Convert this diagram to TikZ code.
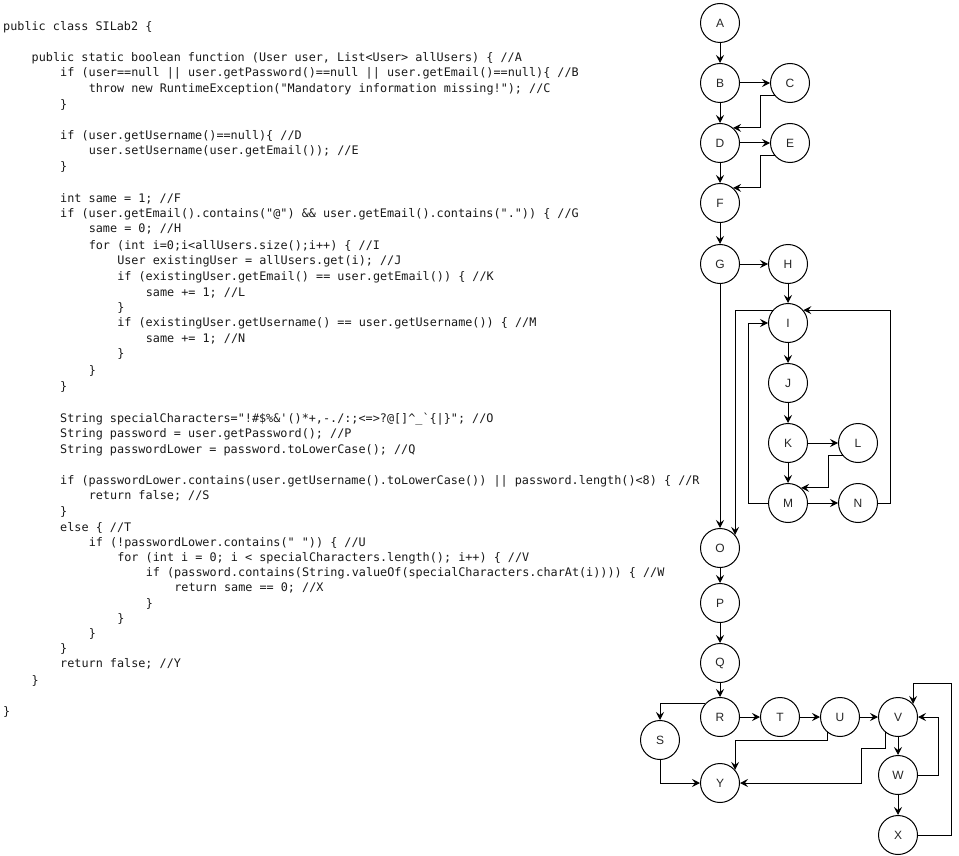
\documentclass[tikz,border=0pt]{standalone}
\usepackage{fontspec}
\setmonofont{DejaVu Sans Mono}
\newfontfamily\labelfont{Liberation Sans}
\usetikzlibrary{arrows.meta}

\begin{document}
\begin{tikzpicture}[x=1pt,y=-1pt,
  code/.style={anchor=base west, inner sep=0pt, text=black!90,
               font=\ttfamily\fontsize{11.8}{14}\selectfont},
  vtx/.style={circle, draw, line width=1pt, minimum size=39pt, inner sep=0pt,
              text=black!85, font=\labelfont\fontsize{12}{14}\selectfont},
  arr/.style={-{Stealth[length=8pt,width=8pt,inset=3pt]}, line width=1pt},
]
\useasboundingbox (0,0) rectangle (959,856);

% ---------------- source listing ----------------
\def\ind#1{\fpeval{3+28.52*#1}}
\node[code] (l0)  at (\ind{0},31)  {public class SILab2 \{};
\node[code] (l2)  at (\ind{1},62)  {public static boolean function (User user, List<User> allUsers) \{ //A};
\node[code] (l3)  at (\ind{2},77)  {if (user==null || user.getPassword()==null || user.getEmail()==null)\{ //B};
\node[code] (l4)  at (\ind{3},93)  {throw new RuntimeException("Mandatory information missing!"); //C};
\node[code] (l5)  at (\ind{2},109) {\}};
\node[code] (l7)  at (\ind{2},140) {if (user.getUsername()==null)\{ //D};
\node[code] (l8)  at (\ind{3},155) {user.setUsername(user.getEmail()); //E};
\node[code] (l9)  at (\ind{2},171) {\}};
\node[code] (l11) at (\ind{2},202) {int same = 1; //F};
\node[code] (l12) at (\ind{2},217) {if (user.getEmail().contains("@") \&\& user.getEmail().contains(".")) \{ //G};
\node[code] (l13) at (\ind{3},233) {same = 0; //H};
\node[code] (l14) at (\ind{3},249) {for (int i=0;i<allUsers.size();i++) \{ //I};
\node[code] (l15) at (\ind{4},264) {User existingUser = allUsers.get(i); //J};
\node[code] (l16) at (\ind{4},280) {if (existingUser.getEmail() == user.getEmail()) \{ //K};
\node[code] (l17) at (\ind{5},296) {same += 1; //L};
\node[code] (l18) at (\ind{4},311) {\}};
\node[code] (l19) at (\ind{4},326) {if (existingUser.getUsername() == user.getUsername()) \{ //M};
\node[code] (l20) at (\ind{5},342) {same += 1; //N};
\node[code] (l21) at (\ind{4},357) {\}};
\node[code] (l22) at (\ind{3},374) {\}};
\node[code] (l23) at (\ind{2},390) {\}};
\node[code] (l25) at (\ind{2},422) {String specialCharacters="!\#\$\%\&'()*+,-./:;<=>?@[]\textasciicircum\_`\{|\}"; //O};
\node[code] (l26) at (\ind{2},437) {String password = user.getPassword(); //P};
\node[code] (l27) at (\ind{2},453) {String passwordLower = password.toLowerCase(); //Q};
\node[code] (l29) at (\ind{2},484) {if (passwordLower.contains(user.getUsername().toLowerCase()) || password.length()<8) \{ //R};
\node[code] (l30) at (\ind{3},499) {return false; //S};
\node[code] (l31) at (\ind{2},515) {\}};
\node[code] (l32) at (\ind{2},531) {else \{ //T};
\node[code] (l33) at (\ind{3},546) {if (!passwordLower.contains(" ")) \{ //U};
\node[code] (l34) at (\ind{4},561) {for (int i = 0; i < specialCharacters.length(); i++) \{ //V};
\node[code] (l35) at (\ind{5},576) {if (password.contains(String.valueOf(specialCharacters.charAt(i)))) \{ //W};
\node[code] (l36) at (\ind{6},591) {return same == 0; //X};
\node[code] (l37) at (\ind{5},607) {\}};
\node[code] (l38) at (\ind{4},622) {\}};
\node[code] (l39) at (\ind{3},637) {\}};
\node[code] (l40) at (\ind{2},652) {\}};
\node[code] (l41) at (\ind{2},667) {return false; //Y};
\node[code] (l42) at (\ind{1},684) {\}};
\node[code] (l44) at (\ind{0},715) {\}};

% ---------------- control flow graph ----------------
\node[vtx] (A) at (720,23)  {A};
\node[vtx] (B) at (720,83)  {B};
\node[vtx] (C) at (790,83)  {C};
\node[vtx] (D) at (720,143) {D};
\node[vtx] (E) at (790,143) {E};
\node[vtx] (F) at (720,203) {F};
\node[vtx] (G) at (720,264) {G};
\node[vtx] (H) at (788,264) {H};
\node[vtx] (I) at (788,323) {I};
\node[vtx] (J) at (788,383) {J};
\node[vtx] (K) at (788,443) {K};
\node[vtx] (L) at (858,443) {L};
\node[vtx] (M) at (788,503) {M};
\node[vtx] (N) at (858,503) {N};
\node[vtx] (O) at (720,548) {O};
\node[vtx] (P) at (720,603) {P};
\node[vtx] (Q) at (720,663) {Q};
\node[vtx] (R) at (720,717) {R};
\node[vtx] (S) at (660,740) {S};
\node[vtx] (T) at (780,717) {T};
\node[vtx] (U) at (840,717) {U};
\node[vtx] (V) at (898,717) {V};
\node[vtx] (W) at (898,775) {W};
\node[vtx] (X) at (898,835) {X};
\node[vtx] (Y) at (720,783) {Y};

% straight edges
\draw[arr] (A) -- (B);
\draw[arr] (B) -- (C);
\draw[arr] (B) -- (D);
\draw[arr] (D) -- (E);
\draw[arr] (D) -- (F);
\draw[arr] (F) -- (G);
\draw[arr] (G) -- (H);
\draw[arr] (H) -- (I);
\draw[arr] (I) -- (J);
\draw[arr] (J) -- (K);
\draw[arr] (K) -- (L);
\draw[arr] (K) -- (M);
\draw[arr] (M) -- (N);
\draw[arr] (G) -- (O);
\draw[arr] (O) -- (P);
\draw[arr] (P) -- (Q);
\draw[arr] (Q) -- (R);
\draw[arr] (R) -- (T);
\draw[arr] (T) -- (U);
\draw[arr] (U) -- (V);
\draw[arr] (V) -- (W);
\draw[arr] (W) -- (X);

% orthogonal edges
\draw[arr] (C.220) -| ([xshift=27pt]D.49) -- (D.49);
\draw[arr] (E.220) -| ([xshift=27pt]F.49) -- (F.49);
\draw[arr] (L.220) -| ([xshift=27pt]M.49) -- (M.49);
\draw[arr] (M.west) -- ([xshift=-20pt]M.west) |- (I.west);
\draw[arr] (N.east) -- ([xshift=12pt]N.east) |- (I.40);
\draw[arr] (I.140) -| (O.41);
\draw[arr] (R.137) -| (S.north);
\draw[arr] (S.south) |- (Y.west);
\draw[arr] (U.230) -- ([yshift=-8pt]U.230) -| (Y.41);
\draw[arr] (V.230) -- ([yshift=-16pt]V.230) -| ([xshift=121pt]Y.east) -- (Y.east);
\draw[arr] (W.east) -- ([xshift=20pt]W.east) |- (V.east);
\draw[arr] (X.east) -- ([xshift=33pt]X.east) |- ([yshift=20pt]V.41) -- (V.41);
\end{tikzpicture}
\end{document}
